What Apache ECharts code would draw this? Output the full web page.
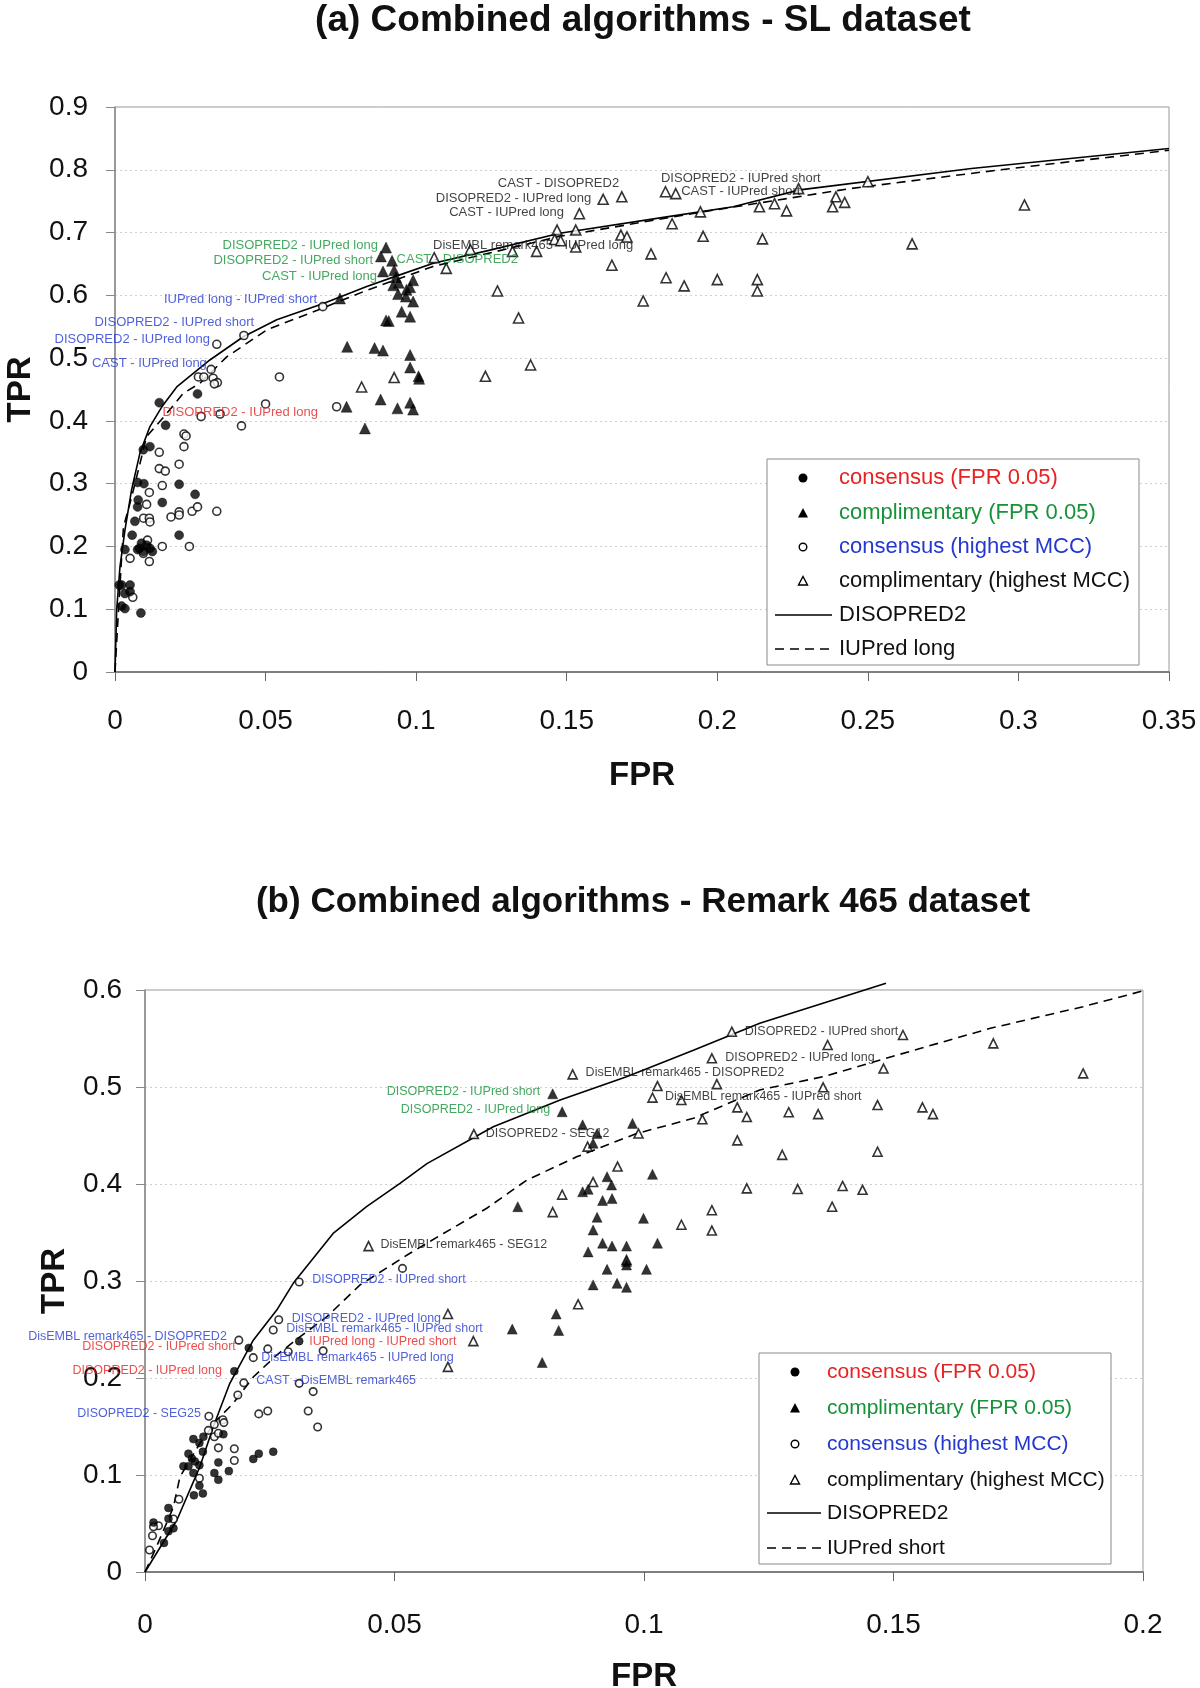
<!DOCTYPE html>
<html><head><meta charset="utf-8">
<script src="https://cdn.jsdelivr.net/npm/echarts@6/dist/echarts.min.js"></script>
<style>html,body{margin:0;padding:0;background:#fff}#c{width:1200px;height:1688px}</style>
</head><body><div id="c"></div>
<script>
const FONT = "'Liberation Sans', Arial, sans-serif";
const BOLDF = "'Liberation Sans', Arial, sans-serif";
const COL = {r:'#e62222', g:'#169238', b:'#2438d0', k:'#111111'};

// ---------- Panel (a) SL dataset ----------
const xTicksA = [0, 0.05, 0.1, 0.15, 0.2, 0.25, 0.3, 0.35];
const yTicksA = [0, 0.1, 0.2, 0.3, 0.4, 0.5, 0.6, 0.7, 0.8, 0.9];
const consFpr05A = [[0.0274,0.443],[0.0147,0.429],[0.0168,0.393],[0.0094,0.354],[0.0116,0.359],[0.0075,0.302],[0.0096,0.300],[0.0213,0.299],[0.0266,0.283],[0.0077,0.274],[0.0075,0.263],[0.0157,0.270],[0.0066,0.240],[0.0057,0.218],[0.0213,0.218],[0.0033,0.195],[0.0075,0.195],[0.0088,0.205],[0.0105,0.202],[0.0116,0.197],[0.0124,0.192],[0.0094,0.192],[0.0081,0.197],[0.0014,0.1385],[0.0022,0.1385],[0.005,0.1385],[0.0033,0.125],[0.005,0.128],[0.0022,0.105],[0.0033,0.101],[0.0086,0.094]];
const compFpr05A = [[0.090,0.676],[0.0883,0.662],[0.092,0.655],[0.089,0.638],[0.0927,0.640],[0.0933,0.629],[0.0924,0.616],[0.0942,0.620],[0.099,0.624],[0.098,0.613],[0.0968,0.609],[0.094,0.602],[0.0966,0.598],[0.099,0.590],[0.0952,0.574],[0.098,0.566],[0.090,0.560],[0.0909,0.559],[0.0747,0.595],[0.0771,0.518],[0.0862,0.516],[0.089,0.512],[0.098,0.505],[0.098,0.485],[0.1008,0.471],[0.101,0.467],[0.0769,0.4225],[0.0882,0.434],[0.0938,0.420],[0.098,0.429],[0.099,0.418],[0.083,0.388]];
const consMccA = [[0.069,0.582],[0.0428,0.536],[0.0338,0.522],[0.0319,0.482],[0.0277,0.470],[0.0295,0.470],[0.0326,0.468],[0.034,0.461],[0.033,0.459],[0.0546,0.470],[0.050,0.427],[0.0286,0.407],[0.0349,0.411],[0.042,0.392],[0.0736,0.4225],[0.0229,0.379],[0.0236,0.376],[0.0229,0.359],[0.0147,0.350],[0.0213,0.331],[0.0147,0.324],[0.0167,0.320],[0.0157,0.297],[0.0114,0.286],[0.0105,0.267],[0.0095,0.245],[0.0114,0.245],[0.0116,0.239],[0.0186,0.247],[0.0213,0.255],[0.0213,0.250],[0.0256,0.256],[0.0274,0.263],[0.0338,0.256],[0.0108,0.210],[0.0157,0.200],[0.0247,0.200],[0.0094,0.189],[0.005,0.181],[0.0114,0.176],[0.0059,0.119]];
const compMccA = [[0.106,0.660],[0.110,0.643],[0.118,0.673],[0.127,0.607],[0.132,0.670],[0.134,0.564],[0.0819,0.454],[0.0927,0.469],[0.123,0.471],[0.138,0.489],[0.1621,0.753],[0.1683,0.757],[0.1542,0.730],[0.1468,0.704],[0.153,0.704],[0.146,0.689],[0.148,0.687],[0.153,0.677],[0.140,0.670],[0.168,0.696],[0.170,0.693],[0.165,0.648],[0.178,0.666],[0.185,0.714],[0.1828,0.765],[0.1862,0.762],[0.1944,0.733],[0.1953,0.694],[0.183,0.628],[0.189,0.615],[0.200,0.625],[0.2133,0.625],[0.2133,0.607],[0.1754,0.591],[0.214,0.741],[0.219,0.746],[0.223,0.7345],[0.215,0.690],[0.227,0.770],[0.2394,0.757],[0.2383,0.741],[0.2423,0.748],[0.250,0.781],[0.302,0.744],[0.2647,0.682]];
const disopredA = [[0,0],[0.00056,0.099],[0.00166,0.168],[0.0033,0.226],[0.0055,0.290],[0.0083,0.349],[0.0116,0.391],[0.0155,0.422],[0.0205,0.454],[0.0315,0.497],[0.0426,0.534],[0.0537,0.561],[0.0692,0.587],[0.0836,0.614],[0.0924,0.629],[0.1057,0.651],[0.1245,0.672],[0.1477,0.699],[0.1832,0.725],[0.2053,0.741],[0.2274,0.768],[0.2844,0.802],[0.35,0.834]];
const iupredLongA = [[0,0],[0.0011,0.0935],[0.0028,0.231],[0.005,0.269],[0.0072,0.311],[0.0105,0.375],[0.0172,0.412],[0.0227,0.444],[0.0282,0.460],[0.0371,0.502],[0.0504,0.545],[0.067,0.576],[0.0836,0.608],[0.1056,0.646],[0.1477,0.694],[0.194,0.732],[0.244,0.770],[0.294,0.800],[0.35,0.831]];
const annotA = [
  [0.1674,0.778,'CAST - DISOPRED2','k','right'],
  [0.1581,0.755,'DISOPRED2 - IUPred long','k','right'],
  [0.1491,0.732,'CAST - IUPred long','k','right'],
  [0.1056,0.679,'DisEMBL remark465 - IUPred long','k','left'],
  [0.1813,0.787,'DISOPRED2 - IUPred short','k','left'],
  [0.1880,0.766,'CAST - IUPred short','k','left'],
  [0.0873,0.680,'DISOPRED2 - IUPred long','g','right'],
  [0.0857,0.655,'DISOPRED2 - IUPred short','g','right'],
  [0.0870,0.630,'CAST - IUPred long','g','right'],
  [0.0935,0.657,'CAST - DISOPRED2','g','left'],
  [0.0671,0.594,'IUPred long - IUPred short','b','right'],
  [0.0462,0.557,'DISOPRED2 - IUPred short','b','right'],
  [0.0315,0.530,'DISOPRED2 - IUPred long','b','right'],
  [0.0305,0.492,'CAST - IUPred long','b','right'],
  [0.0158,0.414,'DISOPRED2 - IUPred long','r','left']
];

// ---------- Panel (b) Remark 465 dataset ----------
const xTicksB = [0, 0.05, 0.1, 0.15, 0.2];
const yTicksB = [0, 0.1, 0.2, 0.3, 0.4, 0.5, 0.6];
const consFpr05B = [[0.0208,0.231],[0.0179,0.207],[0.0309,0.238],[0.0157,0.142],[0.0117,0.1395],[0.0097,0.137],[0.0109,0.133],[0.0116,0.124],[0.0087,0.122],[0.0094,0.117],[0.010,0.114],[0.0077,0.109],[0.0087,0.109],[0.0109,0.110],[0.0097,0.102],[0.0147,0.113],[0.0139,0.102],[0.0147,0.095],[0.0168,0.104],[0.0217,0.1165],[0.0228,0.122],[0.0257,0.124],[0.0109,0.089],[0.0098,0.079],[0.0116,0.081],[0.0047,0.066],[0.0047,0.055],[0.0057,0.045],[0.0047,0.042],[0.0017,0.051],[0.0038,0.030]];
const compFpr05B = [[0.0817,0.493],[0.0836,0.4745],[0.0877,0.461],[0.0977,0.4625],[0.0906,0.452],[0.0898,0.442],[0.1017,0.410],[0.0926,0.4075],[0.0935,0.399],[0.0877,0.392],[0.0888,0.3945],[0.0917,0.383],[0.0936,0.385],[0.0747,0.3766],[0.0906,0.3657],[0.0999,0.3646],[0.0898,0.3526],[0.0917,0.339],[0.0936,0.336],[0.0965,0.336],[0.1027,0.339],[0.0888,0.330],[0.0965,0.320],[0.0965,0.3165],[0.0926,0.312],[0.1005,0.312],[0.0898,0.296],[0.0946,0.2976],[0.0965,0.2935],[0.0736,0.2504],[0.0824,0.266],[0.0829,0.249],[0.0796,0.216]];
const consMccB = [[0.0188,0.239],[0.0268,0.260],[0.0257,0.2495],[0.0246,0.230],[0.0217,0.221],[0.0287,0.227],[0.0357,0.228],[0.0309,0.1945],[0.0337,0.186],[0.0198,0.195],[0.0186,0.1825],[0.0228,0.163],[0.0246,0.166],[0.0327,0.166],[0.0346,0.1495],[0.0128,0.1605],[0.0139,0.152],[0.0156,0.157],[0.0158,0.154],[0.0127,0.146],[0.0139,0.1395],[0.0147,0.143],[0.0147,0.128],[0.0179,0.127],[0.0179,0.115],[0.0109,0.0966],[0.0068,0.075],[0.0057,0.0546],[0.0027,0.0477],[0.0017,0.0467],[0.0015,0.0374],[0.0009,0.0227],[0.0309,0.299],[0.0516,0.313]];
const compMccB = [[0.1176,0.557],[0.1136,0.5296],[0.0857,0.513],[0.1027,0.501],[0.1146,0.503],[0.1017,0.489],[0.1075,0.4866],[0.1187,0.479],[0.1206,0.469],[0.1117,0.4667],[0.0989,0.452],[0.0659,0.4515],[0.0887,0.4385],[0.1187,0.445],[0.0947,0.418],[0.0898,0.402],[0.0836,0.389],[0.0817,0.371],[0.1206,0.3955],[0.1136,0.373],[0.1075,0.358],[0.1136,0.352],[0.0448,0.336],[0.1519,0.5536],[0.1368,0.5433],[0.170,0.545],[0.148,0.519],[0.188,0.514],[0.1359,0.4997],[0.129,0.474],[0.1349,0.472],[0.1468,0.4814],[0.1558,0.479],[0.1579,0.472],[0.1277,0.430],[0.1468,0.4333],[0.1308,0.3948],[0.1398,0.398],[0.1438,0.394],[0.1377,0.3766],[0.0607,0.266],[0.0658,0.238],[0.0607,0.2115],[0.0868,0.276],[0.0965,0.3216]];
const disopredB = [[0,0],[0.0064,0.0536],[0.011,0.1086],[0.0137,0.150],[0.017,0.1945],[0.0217,0.239],[0.0264,0.270],[0.0297,0.2976],[0.0377,0.349],[0.0444,0.3766],[0.0511,0.4007],[0.0565,0.421],[0.0698,0.459],[0.0832,0.4866],[0.0965,0.5106],[0.1099,0.538],[0.1232,0.5657],[0.1485,0.607]];
const iupredShortB = [[0,0],[0.0023,0.026],[0.0057,0.067],[0.007,0.098],[0.011,0.1327],[0.0144,0.1567],[0.0177,0.174],[0.0217,0.201],[0.0264,0.2237],[0.0311,0.2426],[0.0364,0.263],[0.0431,0.296],[0.0531,0.3286],[0.0598,0.349],[0.0685,0.375],[0.0765,0.404],[0.0865,0.428],[0.0985,0.452],[0.1099,0.4677],[0.1232,0.497],[0.1359,0.5106],[0.1508,0.533],[0.1694,0.5605],[0.188,0.5828],[0.2007,0.600]];
const annotB = [
  [0.1202,0.5567,'DISOPRED2 - IUPred short','k','left'],
  [0.1163,0.5306,'DISOPRED2 - IUPred long','k','left'],
  [0.0883,0.5148,'DisEMBL remark465 - DISOPRED2','k','left'],
  [0.1042,0.490,'DisEMBL remark465 - IUPred short','k','left'],
  [0.0683,0.4515,'DISOPRED2 - SEG12','k','left'],
  [0.0472,0.338,'DisEMBL remark465 - SEG12','k','left'],
  [0.0792,0.495,'DISOPRED2 - IUPred short','g','right'],
  [0.0812,0.477,'DISOPRED2 - IUPred long','g','right'],
  [0.0335,0.301,'DISOPRED2 - IUPred short','b','left'],
  [0.0294,0.2615,'DISOPRED2 - IUPred long','b','left'],
  [0.0283,0.2505,'DisEMBL remark465 - IUPred short','b','left'],
  [0.0233,0.2206,'DisEMBL remark465 - IUPred long','b','left'],
  [0.0223,0.197,'CAST - DisEMBL remark465','b','left'],
  [0.0164,0.2426,'DisEMBL remark465 - DISOPRED2','b','right'],
  [0.0112,0.163,'DISOPRED2 - SEG25','b','right'],
  [0.0182,0.2323,'DISOPRED2 - IUPred short','r','right'],
  [0.0154,0.208,'DISOPRED2 - IUPred long','r','right'],
  [0.0329,0.2374,'IUPred long - IUPred short','r','left']
];

const legendNames = ['consensus (FPR 0.05)','complimentary (FPR 0.05)','consensus (highest MCC)','complimentary (highest MCC)','DISOPRED2'];
const legendColors = ['r','g','b','k','k','k'];

// ---------- builders ----------
function xAxisCfg(gi, ticks, margin, nameGap) {
  return {gridIndex:gi, type:'value', min:ticks[0], max:ticks[ticks.length-1], interval:ticks[1]-ticks[0],
    axisLine:{onZero:false, lineStyle:{color:'#666', width:1.5}},
    axisTick:{show:true, inside:false, length:9, lineStyle:{color:'#666', width:1}},
    splitLine:{show:false},
    axisLabel:{margin:margin, fontSize:28, color:'#111', fontFamily:FONT},
    name:'FPR', nameLocation:'middle', nameGap:nameGap,
    nameTextStyle:{fontSize:33, fontWeight:'bold', color:'#111', fontFamily:BOLDF}};
}
function yAxisCfg(gi, ticks, margin, nameGap) {
  return {gridIndex:gi, type:'value', min:ticks[0], max:ticks[ticks.length-1], interval:ticks[1]-ticks[0],
    axisLine:{onZero:false, lineStyle:{color:'#888', width:1.5}},
    axisTick:{show:true, inside:false, length:9, lineStyle:{color:'#888', width:1}},
    splitLine:{show:true, lineStyle:{color:'#cfcfcf', type:[2,3], width:1}},
    axisLabel:{margin:margin, fontSize:28, color:'#111', fontFamily:FONT},
    name:'TPR', nameLocation:'middle', nameGap:nameGap, nameRotate:90,
    nameTextStyle:{fontSize:33, fontWeight:'bold', color:'#111', fontFamily:BOLDF}};
}
function pts(data, gi, symbol, filled, size) {
  return {type:'scatter', xAxisIndex:gi, yAxisIndex:gi, data:data, symbol:symbol, symbolSize:size, silent:true, z:3,
    itemStyle: filled ? {color:'#000', borderColor:'#000', borderWidth:0.5}
                      : {color:'#fff', borderColor:'#000', borderWidth:1.6}};
}
function curve(data, gi, dashed) {
  return {type:'line', xAxisIndex:gi, yAxisIndex:gi, data:data, showSymbol:false, symbol:'none', silent:true, z:2, clip:false,
    lineStyle:{color:'#000', width:1.6, type: dashed ? [9,6] : 'solid'}};
}
function annot(arr, gi, fs) {
  return {type:'scatter', xAxisIndex:gi, yAxisIndex:gi, symbol:'circle', symbolSize:1, silent:true, z:6, clip:false,
    itemStyle:{color:'rgba(0,0,0,0)'},
    data: arr.map(a => ({value:[a[0],a[1]], name:a[2],
      label:{show:true, position:'inside', formatter:'{b}', align:a[4], verticalAlign:'middle',
             color:COL[a[3]], fontSize:fs, fontFamily:FONT}}))};
}
function legendGraphic(box, rows, symX, lineX0, lineX1, textX, fs, lastName) {
  const g = [];
  g.push({type:'rect', shape:{x:box[0], y:box[1], width:box[2]-box[0], height:box[3]-box[1]},
          style:{fill:'#fff', stroke:'#8a8a8a', lineWidth:1}, z:50});
  const names = legendNames.concat([lastName]);
  rows.forEach((y, i) => {
    if (i === 0) g.push({type:'circle', shape:{cx:symX, cy:y, r:4.5}, style:{fill:'#000'}, z:51});
    if (i === 1) g.push({type:'polygon', shape:{points:[[symX,y-5],[symX+5,y+4.5],[symX-5,y+4.5]]}, style:{fill:'#000'}, z:51});
    if (i === 2) g.push({type:'circle', shape:{cx:symX, cy:y, r:3.8}, style:{fill:'#fff', stroke:'#000', lineWidth:1.4}, z:51});
    if (i === 3) g.push({type:'polygon', shape:{points:[[symX,y-4.5],[symX+4.5,y+4],[symX-4.5,y+4]]}, style:{fill:'#fff', stroke:'#000', lineWidth:1.4}, z:51});
    if (i === 4) g.push({type:'line', shape:{x1:lineX0, y1:y, x2:lineX1, y2:y}, style:{stroke:'#000', lineWidth:1.5}, z:51});
    if (i === 5) g.push({type:'line', shape:{x1:lineX0, y1:y, x2:lineX1, y2:y}, style:{stroke:'#000', lineWidth:1.5, lineDash:[9,6]}, z:51});
    g.push({type:'text', x:textX, y:y, z:51,
      style:{text:names[i], fill:COL[legendColors[i]], fontSize:fs, fontFamily:FONT, textVerticalAlign:'middle', verticalAlign:'middle', textAlign:'left'}});
  });
  return g;
}

const chart = echarts.init(document.getElementById('c'), null, {renderer:'canvas'});
chart.setOption({
  backgroundColor:'#fff',
  animation:false,
  title:[
    {text:'(a) Combined algorithms - SL dataset', left:638, top:-3, textAlign:'center',
     textStyle:{fontSize:37, fontWeight:'bold', color:'#111', fontFamily:BOLDF}},
    {text:'(b) Combined algorithms - Remark 465 dataset', left:638, top:880, textAlign:'center',
     textStyle:{fontSize:35, fontWeight:'bold', color:'#111', fontFamily:BOLDF}}
  ],
  grid:[
    {left:115, top:107, width:1054, height:565, show:true, borderColor:'#999', borderWidth:1, backgroundColor:'#fff', outerBoundsMode:'none', containLabel:false},
    {left:145, top:990, width:998, height:582, show:true, borderColor:'#999', borderWidth:1, backgroundColor:'#fff', outerBoundsMode:'none', containLabel:false}
  ],
  xAxis:[xAxisCfg(0, xTicksA, 35, 87), xAxisCfg(1, xTicksB, 39, 88)],
  yAxis:[yAxisCfg(0, yTicksA, 27, 78), yAxisCfg(1, yTicksB, 23, 74)],
  series:[
    curve(disopredA, 0, false), curve(iupredLongA, 0, true),
    pts(consMccA, 0, 'circle', false, 8), pts(compMccA, 0, 'triangle', false, 10),
    pts(consFpr05A, 0, 'circle', true, 9), pts(compFpr05A, 0, 'triangle', true, 11),
    annot(annotA, 0, 13),
    curve(disopredB, 1, false), curve(iupredShortB, 1, true),
    pts(consMccB, 1, 'circle', false, 7.5), pts(compMccB, 1, 'triangle', false, 9),
    pts(consFpr05B, 1, 'circle', true, 8), pts(compFpr05B, 1, 'triangle', true, 10),
    annot(annotB, 1, 12.5)
  ],
  graphic: legendGraphic([767,459,1139,665],[478,513,547,581,615,649],803,775,832,839,22,'IUPred long')
    .concat(legendGraphic([759,1353,1111,1564],[1372,1408,1444,1480,1513,1548],795,767,821,827,21,'IUPred short'))
});
</script>
</body></html>
